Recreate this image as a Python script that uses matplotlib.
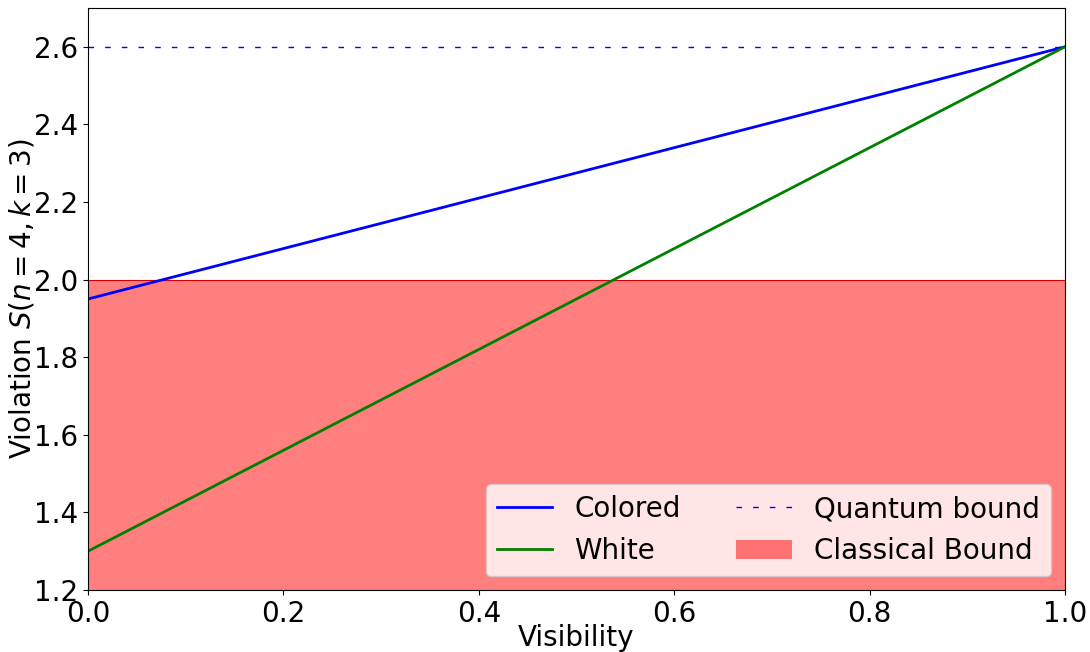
import matplotlib
matplotlib.use("Agg")
import matplotlib.pyplot as plt

visibility = [0.0, 1.0]
colored = [1.95, 2.6]
white = [1.3, 2.6]
quantum_bound = 2.6
classical_bound = 2.0
y_min, y_max = 1.2, 2.7

plt.rcParams['font.size'] = 20
fig = plt.figure(figsize=(10.9, 6.52), dpi=100)
ax = fig.add_axes([88/1090, 62/652, (1065-88)/1090, (590-8)/652])

ax.plot(visibility, colored, color='blue', lw=2, label='Colored')
ax.plot(visibility, white, color='green', lw=2, label='White')
ax.axhline(quantum_bound, color='blue', lw=1, ls=(0, (4, 8)), label='Quantum bound')
ax.fill_between(visibility, [y_min, y_min], [classical_bound, classical_bound],
                facecolor='red', alpha=0.5, edgecolor='none', label='Classical Bound')
ax.axhline(classical_bound, color='#d00000', lw=0.8, zorder=1)

ax.set_xlim(0, 1)
ax.set_ylim(y_min, y_max)
ax.set_xticks([0.0, 0.2, 0.4, 0.6, 0.8, 1.0])
ax.set_yticks([1.2, 1.4, 1.6, 1.8, 2.0, 2.2, 2.4, 2.6])
ax.set_xlabel('Visibility', labelpad=-3)
ax.set_ylabel(r'Violation $S(n=4,k=3)$', labelpad=-2)
ax.legend(loc='lower right', ncol=2, fontsize=20)

fig.savefig('out.png', dpi=100)
